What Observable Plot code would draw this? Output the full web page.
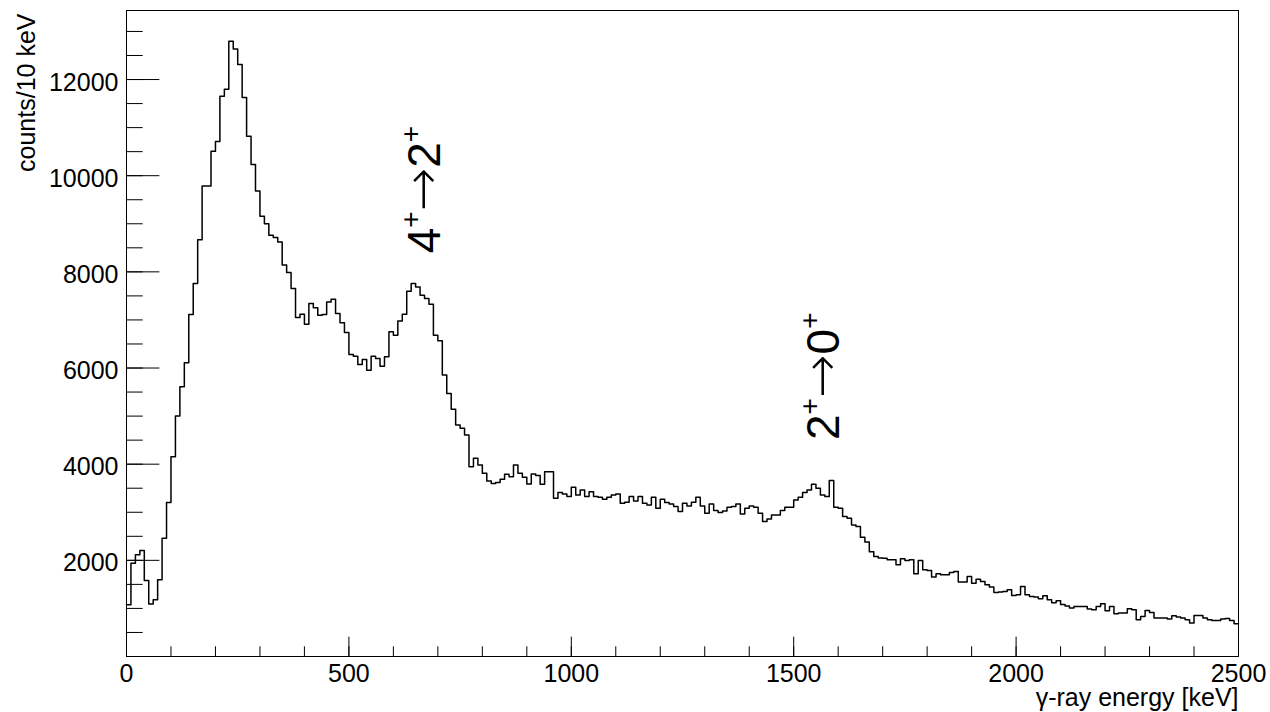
<!DOCTYPE html>
<html>
<head>
<meta charset="utf-8">
<script src="https://cdn.jsdelivr.net/npm/d3@7"></script>
<script src="https://cdn.jsdelivr.net/npm/@observablehq/plot@0.6"></script>
<style>
  html, body { margin: 0; padding: 0; background: #fff; }
</style>
</head>
<body>
<script>
// counts per 10 keV bin, bins starting at 0, 10, 20, ... 2490 keV
const binWidth = 10;
const counts = [
  1076,1942,2114,2204,1581,1090,1180,1595,2461,3201,
  4156,5001,5610,6108,7113,7757,8670,9785,9785,10511,
  10712,11654,11799,12796,12637,12312,11627,10823,10235,9681,
  9155,9003,8760,8712,8621,8144,7985,7653,7051,7119,
  6912,7341,7251,7099,7113,7375,7431,7134,6939,6739,
  6282,6247,6074,6178,5956,6247,6199,6039,6233,6752,
  6683,6980,7119,7597,7757,7687,7514,7445,7327,6683,
  6565,5853,5472,5140,4814,4745,4606,3948,4122,3983,
  3811,3650,3600,3620,3686,3790,3741,3983,3811,3728,
  3589,3797,3762,3582,3845,3845,3292,3409,3381,3326,
  3520,3360,3464,3326,3429,3326,3312,3271,3312,3360,
  3381,3188,3209,3326,3236,3326,3188,3153,3312,3084,
  3271,3201,3174,3118,3014,3188,3132,3210,3312,3132,
  2980,3173,3035,2993,3028,3105,3118,3173,2966,3084,
  3132,3105,2980,2806,2862,2945,2945,3035,3105,3105,
  3256,3312,3409,3464,3582,3499,3360,3326,3658,3105,
  3084,2910,2876,2737,2702,2480,2380,2180,2080,2050,
  2045,2010,2010,1907,2031,1997,2010,1720,1997,1803,
  1789,1651,1720,1699,1699,1747,1768,1547,1547,1664,
  1526,1609,1561,1491,1443,1332,1339,1353,1387,1270,
  1284,1457,1284,1249,1235,1200,1263,1180,1120,1160,
  1080,1050,1007,1041,1041,1041,987,973,1041,1097,
  951,1041,889,903,903,993,973,764,833,958,
  916,799,799,799,779,848,820,799,764,696,
  854,854,799,764,750,750,779,792,750,681
];

const xTickLabels = [0, 500, 1000, 1500, 2000, 2500];
const xMinorTicks = d3.range(0, 2501, 100);
const yTickLabels = [2000, 4000, 6000, 8000, 10000, 12000];
const yMinorTicks = d3.range(500, 13001, 500);

const xTitle = "γ-ray energy [keV]";
const yTitle = "counts/10 keV";

const annotations = [
  {energy: 704, count: 8386, label: "4+→2+"},
  {energy: 1601, count: 4503, label: "2+→0+"}
];

// step-line points at bin edges
const hist = counts.map((c, i) => ({x: i * binWidth, y: c}));
hist.push({x: counts.length * binWidth, y: counts[counts.length - 1]});

const W = 1270, H = 712;
const mL = 126, mR = 32, mT = 10, mB = 56;
const fw = W - mL - mR, fh = H - mT - mB;

const chart = Plot.plot({
  width: W,
  height: H,
  marginLeft: mL,
  marginRight: mR,
  marginTop: mT,
  marginBottom: mB,
  style: {fontFamily: "'Liberation Sans', Arial, Helvetica, sans-serif", background: "#fff", color: "#000"},
  x: {domain: [0, 2500]},
  y: {domain: [0, d3.max(counts) * 1.05]},
  marks: [
    Plot.ruleX(xMinorTicks, {x: d => d, insetTop: fh - 0.015 * fh, stroke: "#000", strokeWidth: 1}),
    Plot.ruleX(xTickLabels, {x: d => d, insetTop: fh - 0.03 * fh, stroke: "#000", strokeWidth: 1}),
    Plot.ruleY(yMinorTicks, {y: d => d, insetRight: fw - 0.015 * fw, stroke: "#000", strokeWidth: 1}),
    Plot.ruleY(yTickLabels, {y: d => d, insetRight: fw - 0.03 * fw, stroke: "#000", strokeWidth: 1}),
    Plot.line(hist, {x: "x", y: "y", curve: "step-after", stroke: "#000", strokeWidth: 1.5}),
    Plot.frame({stroke: "#000", strokeWidth: 1}),
    Plot.axisX(xTickLabels, {tickSize: 0, tickPadding: 8, fontSize: 25, tickFormat: d => String(d), label: null}),
    Plot.axisY(yTickLabels, {tickSize: 0, tickPadding: 8, fontSize: 25, dy: 3, tickFormat: d => String(d), label: null}),
    Plot.text([xTitle], {frameAnchor: "bottom-right", text: d => d, textAnchor: "end", lineAnchor: "bottom", dy: 49, fontSize: 25, fill: "#000"}),
    Plot.text([yTitle], {frameAnchor: "top-left", text: d => d, textAnchor: "end", lineAnchor: "bottom", rotate: -90, dx: -92, dy: 3, fontSize: 25, fill: "#000"}),
    Plot.text(annotations, {x: "energy", y: "count", text: "label", rotate: -90, textAnchor: "start", lineAnchor: "bottom", fontSize: 46, fill: "#000"})
  ]
});

// superscript "+" and long arrow in the transition labels
const NS = "http://www.w3.org/2000/svg";
chart.querySelectorAll("text").forEach(t => {
  const s = t.textContent;
  if (!s.includes("→")) return;
  t.textContent = "";
  let raised = false;
  for (const ch of s) {
    const ts = document.createElementNS(NS, "tspan");
    ts.textContent = ch;
    if (ch === "+") {
      ts.setAttribute("font-size", "28");
      ts.setAttribute("dy", "-20");
      raised = true;
    } else {
      if (raised) { ts.setAttribute("dy", "20"); raised = false; }
      if (ch === "→") {
        ts.setAttribute("font-size", "52");
        ts.setAttribute("font-family", "'DejaVu Sans', sans-serif");
        ts.setAttribute("font-weight", "200");
      }
    }
    t.appendChild(ts);
  }
});

document.body.appendChild(chart);
</script>
</body>
</html>
